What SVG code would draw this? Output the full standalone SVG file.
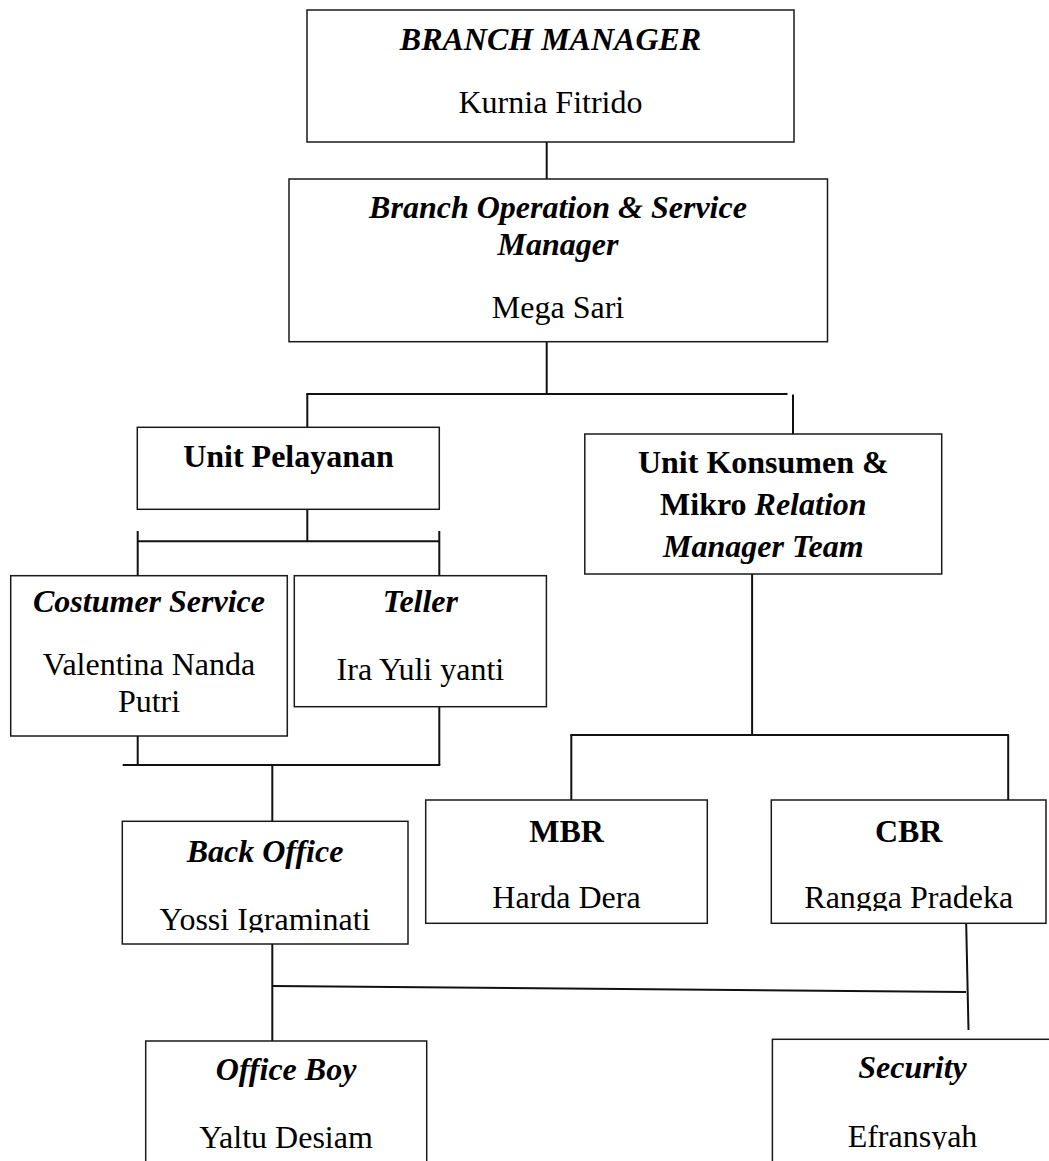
<svg xmlns="http://www.w3.org/2000/svg" width="1049" height="1161" viewBox="0 0 1049 1161">
<style>
  .box { fill: #ffffff; stroke: #1a1a1a; stroke-width: 1.5; }
  .ln { fill: none; stroke: #111111; stroke-width: 2; }
  text { font-family: "Liberation Serif", "Times New Roman", serif; font-size: 32px; fill: #000000; text-anchor: middle; }
  .b { font-weight: bold; }
  .bi { font-weight: bold; font-style: italic; }
</style>
<defs>
  <clipPath id="clipBO"><rect x="120" y="820" width="300" height="112.5"/></clipPath>
  <clipPath id="clipCBR"><rect x="770" y="800" width="279" height="111"/></clipPath>
  <clipPath id="clipSec"><rect x="770" y="1040" width="279" height="109.5"/></clipPath>
</defs>
<rect x="0" y="0" width="1049" height="1161" fill="#ffffff"/>

<g id="connectors">
  <line class="ln" x1="546.7" y1="137" x2="546.7" y2="179"/>
  <line class="ln" x1="546.7" y1="341.7" x2="546.7" y2="394"/>
  <line class="ln" x1="306.3" y1="394" x2="787.5" y2="394"/>
  <line class="ln" x1="307.3" y1="394" x2="307.3" y2="427.3"/>
  <line class="ln" x1="793" y1="394.5" x2="793" y2="434"/>
  <line class="ln" x1="307.3" y1="509.3" x2="307.3" y2="541.3"/>
  <line class="ln" x1="137.7" y1="541.3" x2="439.3" y2="541.3"/>
  <line class="ln" x1="137.7" y1="531" x2="137.7" y2="582.3"/>
  <line class="ln" x1="439.3" y1="531" x2="439.3" y2="587.3"/>
  <line class="ln" x1="137.7" y1="736" x2="137.7" y2="765"/>
  <line class="ln" x1="439.3" y1="706.7" x2="439.3" y2="765"/>
  <line class="ln" x1="122.7" y1="765" x2="440.3" y2="765"/>
  <line class="ln" x1="272.3" y1="765" x2="272.3" y2="821.3"/>
  <line class="ln" x1="752.1" y1="574" x2="752.1" y2="735"/>
  <line class="ln" x1="570.3" y1="735" x2="1008.9" y2="735"/>
  <line class="ln" x1="571.3" y1="735" x2="571.3" y2="802.7"/>
  <line class="ln" x1="1008.2" y1="735" x2="1008.2" y2="804.3"/>
  <line class="ln" x1="272.3" y1="944" x2="272.3" y2="1041"/>
  <line class="ln" x1="273" y1="986" x2="966" y2="992"/>
  <line class="ln" x1="966" y1="915" x2="968.5" y2="1030"/>
</g>

<g id="node-branch-manager">
  <rect class="box" x="307" y="10" width="487" height="132"/>
  <text class="bi" x="550.5" y="50">BRANCH MANAGER</text>
  <text x="550.5" y="113">Kurnia Fitrido</text>
</g>

<g id="node-bosm">
  <rect class="box" x="289" y="179" width="538.5" height="162.7"/>
  <text class="bi" x="558" y="218.3">Branch Operation &amp; Service</text>
  <text class="bi" x="558" y="255">Manager</text>
  <text x="558" y="318.3">Mega Sari</text>
</g>

<g id="node-unit-pelayanan">
  <rect class="box" x="137.3" y="427.3" width="302" height="82"/>
  <text class="b" x="288.5" y="467.3">Unit Pelayanan</text>
</g>

<g id="node-unit-konsumen">
  <rect class="box" x="584.8" y="434" width="356.9" height="140"/>
  <text class="b" x="763.3" y="473.3">Unit Konsumen &amp;</text>
  <text class="b" x="763.3" y="515">Mikro <tspan class="bi">Relation</tspan></text>
  <text class="bi" x="763.3" y="556.7">Manager Team</text>
</g>

<g id="node-costumer-service">
  <rect class="box" x="10.7" y="575.7" width="276.6" height="160.3"/>
  <text class="bi" x="149" y="611.7">Costumer Service</text>
  <text x="149" y="675">Valentina Nanda</text>
  <text x="149" y="711.7">Putri</text>
</g>

<g id="node-teller">
  <rect class="box" x="294.3" y="575.7" width="252.1" height="131"/>
  <text class="bi" x="420.4" y="611.7">Teller</text>
  <text x="420.4" y="680">Ira Yuli yanti</text>
</g>

<g id="node-back-office">
  <rect class="box" x="122.3" y="821.3" width="285.7" height="122.7"/>
  <text class="bi" x="265" y="861.7">Back Office</text>
  <text x="265" y="930" clip-path="url(#clipBO)">Yossi Igraminati</text>
</g>

<g id="node-mbr">
  <rect class="box" x="425.7" y="800" width="281.6" height="123.3"/>
  <text class="b" x="566.5" y="841.5">MBR</text>
  <text x="566.5" y="908.3">Harda Dera</text>
</g>

<g id="node-cbr">
  <rect class="box" x="771.3" y="800" width="274.7" height="123.3"/>
  <text class="b" x="908.7" y="841.5">CBR</text>
  <text x="908.7" y="908.3" clip-path="url(#clipCBR)">Rangga Pradeka</text>
</g>

<g id="node-office-boy">
  <rect class="box" x="145.7" y="1041" width="281" height="140"/>
  <text class="bi" x="286" y="1080">Office Boy</text>
  <text x="286" y="1148.3">Yaltu Desiam</text>
</g>

<g id="node-security">
  <rect class="box" x="772.4" y="1039.3" width="280.6" height="140"/>
  <text class="bi" x="912.5" y="1078.3">Security</text>
  <text x="912.5" y="1146.7" clip-path="url(#clipSec)">Efransyah</text>
</g>
</svg>
